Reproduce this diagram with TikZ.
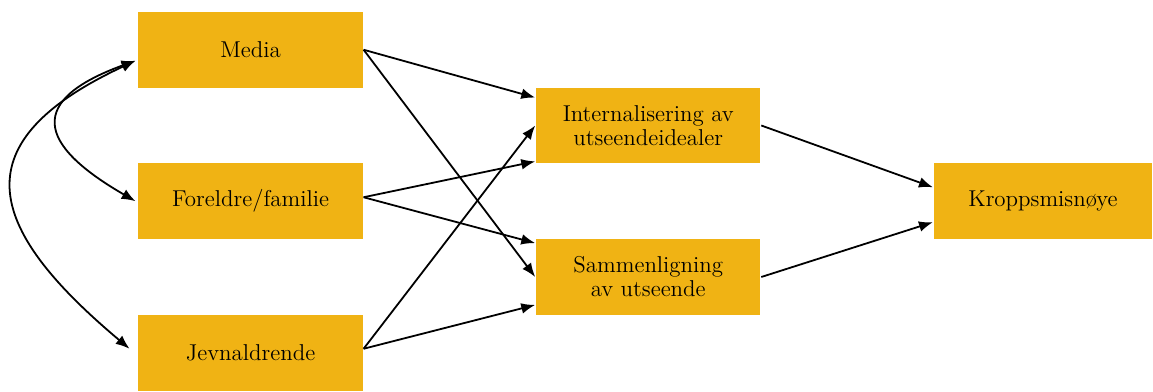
\documentclass[tikz,border=0pt]{standalone}
\usepackage{fontspec}
\usepackage{tikz}
\usetikzlibrary{matrix,arrows.meta}
\definecolor{boxgold}{RGB}{240,179,20}

\begin{document}
\begin{tikzpicture}[>={Latex[length=7pt,width=5.4pt]}, line width=0.9pt,
		factor/.style={fill=boxgold, minimum width=112.5pt, minimum height=38pt, inner sep=2pt, align=center, font=\fontsize{11.5}{12}\selectfont}]
		\matrix (m) [row sep=0pt, column sep=87pt, inner sep=0pt]
		{
			\node[factor] (media) {Media}; & & \\
			& \node[factor] (intern) {Internalisering av\\ utseendeidealer}; & \\
			\node[factor] (foreldre) {Foreldre/familie}; & & \node[factor, minimum width=109.5pt] (kropp) {Kroppsmisnøye}; \\
			& \node[factor] (sammen) {Sammenligning\\ av utseende}; & \\
			\node[factor] (jevn) {Jevnaldrende}; & & \\
		};
		\pgfresetboundingbox
		\useasboundingbox ([xshift=-69pt,yshift=5.5pt]media.north west) rectangle (kropp.east |- jevn.south);
		\path[->]
		(media.east) edge ([yshift=14pt]intern.west)
		(media.east) edge (sammen.west)
		([yshift=2pt]foreldre.east) edge ([yshift=-18pt]intern.west)
		([yshift=2pt]foreldre.east) edge ([yshift=17pt]sammen.west)
		([yshift=2pt]jevn.east) edge (intern.west)
		([yshift=2pt]jevn.east) edge ([yshift=-14pt]sammen.west)
		(intern.east) edge ([yshift=7pt]kropp.west)
		(sammen.east) edge ([yshift=-10.5pt]kropp.west)
		;
		\path[<->]
		([xshift=-1pt,yshift=-5.5pt]media.west) edge [out=200, in=150, looseness=2.1] ([xshift=-1pt]foreldre.west)
		([xshift=-1pt,yshift=-5.5pt]media.west) edge [out=205, in=140, looseness=1.7] ([xshift=-4pt,yshift=2pt]jevn.west)
		;
	\end{tikzpicture}
\end{document}
